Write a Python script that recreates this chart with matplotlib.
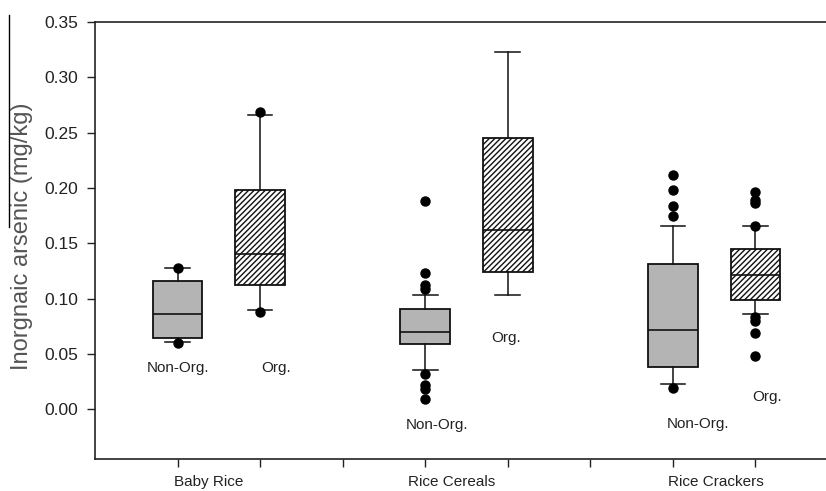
import matplotlib
matplotlib.use("Agg")
import matplotlib.pyplot as plt
from matplotlib.lines import Line2D

plt.rcParams['font.family'] = ['Liberation Sans', 'DejaVu Sans']
plt.rcParams['hatch.linewidth'] = 1.0

# ---- data ----
categories = ["Baby Rice", "Rice Cereals", "Rice Crackers"]
group_labels = ["Non-Org.", "Org."]
positions = [1, 2, 4, 5, 7, 8]

q1_vals = [0.064, 0.112, 0.059, 0.124, 0.038, 0.099]
median_vals = [0.086, 0.140, 0.070, 0.162, 0.072, 0.121]
q3_vals = [0.116, 0.198, 0.091, 0.245, 0.131, 0.145]
whisker_low = [0.061, 0.090, 0.035, 0.103, 0.023, 0.086]
whisker_high = [0.128, 0.266, 0.103, 0.323, 0.166, 0.166]
outliers = [
    [0.128, 0.060],
    [0.269, 0.088],
    [0.188, 0.123, 0.112, 0.109, 0.032, 0.022, 0.018, 0.009],
    [],
    [0.212, 0.198, 0.184, 0.175, 0.019],
    [0.196, 0.189, 0.186, 0.166, 0.083, 0.080, 0.069, 0.048],
]
is_organic = [False, True, False, True, False, True]

# annotation placements (x in data units, y in value units)
note_x = [1.0, 2.19, 4.14, 4.98, 7.30, 8.14]
note_y = [0.037, 0.037, -0.0145, 0.064, -0.0136, 0.011]
category_x = [1.38, 4.32, 7.52]
yticks = [0.00, 0.05, 0.10, 0.15, 0.20, 0.25, 0.30, 0.35]

# ---- figure ----
fig = plt.figure(figsize=(8.26, 4.91), dpi=100)
ax = fig.add_axes([95 / 826, 32 / 491, 743 / 826, 437 / 491])

stats = []
for i in range(len(positions)):
    stats.append(dict(med=median_vals[i], q1=q1_vals[i], q3=q3_vals[i],
                      whislo=whisker_low[i], whishi=whisker_high[i],
                      fliers=outliers[i]))

bp = ax.bxp(stats, positions=positions, widths=0.6, patch_artist=True,
            showfliers=True,
            boxprops=dict(linewidth=1.3, edgecolor='#111111'),
            medianprops=dict(color='#111111', linewidth=1.2),
            whiskerprops=dict(color='#111111', linewidth=1.1),
            capprops=dict(color='#111111', linewidth=1.1),
            flierprops=dict(marker='o', markerfacecolor='black',
                            markeredgecolor='black', markersize=6.5,
                            linestyle='none'))

for box, org in zip(bp['boxes'], is_organic):
    if org:
        box.set_facecolor('white')
        box.set_hatch('//////')
    else:
        box.set_facecolor('#b4b4b4')

for i in range(len(positions)):
    ax.text(note_x[i], note_y[i], group_labels[1 if is_organic[i] else 0],
            ha='center', va='center', fontsize=11, color='#222222')

ax.set_xlim(0, 9)
ax.set_ylim(-0.045, 0.35)
ax.set_xticks(range(1, 9))
ax.set_xticklabels([])
ax.set_yticks(yticks)
ax.set_yticklabels([f"{v:.2f}" for v in yticks], fontsize=12.5, color='#222222')
ax.tick_params(axis='both', direction='out', length=6, width=1.0, color='#222222')
ax.tick_params(axis='y', pad=6)

for cx, name in zip(category_x, categories):
    ax.text(cx, -0.0655, name, ha='center', va='center', fontsize=11,
            color='#222222', transform=ax.transData, clip_on=False)

for side in ['left', 'bottom', 'top', 'right']:
    ax.spines[side].set_linewidth(1.2)
    ax.spines[side].set_color('#222222')

fig.text(22 / 826, 1 - 236 / 491, "Inorgnaic arsenic (mg/kg)", rotation=90,
         ha='center', va='center', fontsize=17, color='#555555')

fig.add_artist(Line2D([9 / 826, 9 / 826], [1 - 15 / 491, 1 - 227 / 491],
                      transform=fig.transFigure, color='black', linewidth=1.0))

fig.savefig("out.png", dpi=100)
